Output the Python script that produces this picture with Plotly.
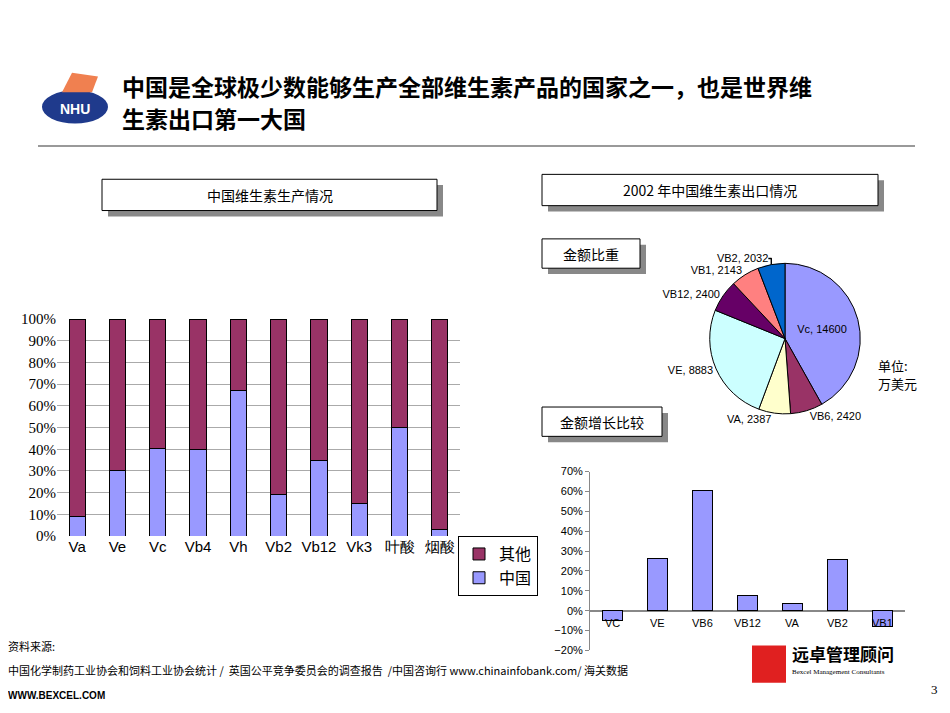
import plotly.graph_objects as go

# left chart: share of world production
vitamins = ["Va", "Ve", "Vc", "Vb4", "Vh", "Vb2", "Vb12", "Vk3", "叶酸", "烟酸"]
china_share = [9, 30, 40.5, 40, 67, 19, 35, 15, 50, 3]
other_share = [100 - v for v in china_share]

# pie: export value 2002 (万美元)
pie_labels = ["Vc", "VB6", "VA", "VE", "VB12", "VB1", "VB2"]
pie_values = [14600, 2420, 2387, 8883, 2400, 2143, 2032]
pie_colors = ["#9999FF", "#993366", "#FFFFCC", "#CCFFFF", "#660066", "#FF8080", "#0066CC"]

# growth chart
growth_labels = ["VC", "VE", "VB6", "VB12", "VA", "VB2", "VB1"]
growth_values = [-5, 26.5, 60.5, 7.5, 3.5, 25.5, -8]

W, H = 950, 713
OFF = 8  # page margin of the html body
def px(x): return (x - OFF) / W
def py(y): return 1 - (y - OFF) / H

fig = go.Figure()
fig.add_trace(go.Bar(x=vitamins, y=china_share, name="中国", marker=dict(color="#9999FF", line=dict(color="#000", width=1)), width=0.4))
fig.add_trace(go.Bar(x=vitamins, y=other_share, name="其他", marker=dict(color="#993366", line=dict(color="#000", width=1)), width=0.4))

fig.add_trace(go.Pie(labels=pie_labels, values=pie_values, sort=False, direction="clockwise", rotation=0,
                     marker=dict(colors=pie_colors, line=dict(color="#000", width=1)),
                     texttemplate="%{label}, %{value:.0f}", textposition=["inside"] + ["outside"] * 6,
                     textfont=dict(size=11, color="#000", family="Arial"), insidetextorientation="horizontal",
                     showlegend=False, domain=dict(x=[px(708), px(862)], y=[py(415), py(261)])))

fig.add_trace(go.Bar(x=growth_labels, y=growth_values, xaxis="x2", yaxis="y2", showlegend=False,
                     marker=dict(color="#9999FF", line=dict(color="#000", width=1)), width=0.45))

ann = []
for lab in growth_labels:
    ann.append(dict(x=lab, y=-2.2, xref="x2", yref="y2", text=lab, showarrow=False, xanchor="center", yanchor="top",
                    font=dict(size=11, family="Arial", color="#000")))

cjk = "Noto Sans CJK SC"

def text(x, y, t, size, family=cjk, xanchor="left", yanchor="middle"):
    ann.append(dict(x=px(x), y=py(y), xref="paper", yref="paper", text=t, showarrow=False,
                    xanchor=xanchor, yanchor=yanchor, font=dict(size=size, family=family, color="#000")))

text(120, 80, "<b>中国是全球极少数能够生产全部维生素产品的国家之一，也是世界维</b>", 23)
text(120, 112, "<b>生素出口第一大国</b>", 23)

shapes = [dict(type="line", xref="paper", yref="paper", x0=px(38), x1=px(915), y0=py(141), y1=py(141),
               line=dict(color="#999", width=2))]

def box(x0, y0, x1, y1, t, size=14):
    shapes.append(dict(type="rect", xref="paper", yref="paper", x0=px(x0 + 6), x1=px(x1 + 6), y0=py(y1 + 6), y1=py(y0 + 6),
                       fillcolor="#888888", line=dict(width=0), layer="below"))
    shapes.append(dict(type="rect", xref="paper", yref="paper", x0=px(x0), x1=px(x1), y0=py(y1), y1=py(y0),
                       fillcolor="#fff", line=dict(color="#000", width=1), layer="below"))
    text((x0 + x1) / 2, (y0 + y1) / 2, t, size, xanchor="center")

box(102, 175, 437, 207, "中国维生素生产情况")
box(542, 170, 878, 202, "2002 年中国维生素出口情况")
box(542, 236, 640, 266, "金额比重")
box(542, 408, 662, 438, "金额增长比较")

# logo
shapes.append(dict(type="circle", xref="paper", yref="paper", x0=px(42), x1=px(108), y0=py(118), y1=py(84),
                   fillcolor="#1F3A8C", line=dict(width=0)))
shapes.append(dict(type="path", xref="paper", yref="paper",
                   path=f"M {px(62)} {py(86)} L {px(72)} {py(66)} L {px(98)} {py(70)} L {px(92)} {py(86)} Z",
                   fillcolor="#F08050", line=dict(width=0)))
text(75, 103, "<b>NHU</b>", 14, family="Arial Black, Arial", xanchor="center")
ann[-1]["font"]["color"] = "#fff"

text(876, 366, "单位:", 13)
text(876, 384, "万美元", 13)
text(6, 652, "资料来源:", 11)
text(6, 677, "中国化学制药工业协会和饲料工业协会统计 /  英国公平竞争委员会的调查报告  /中国咨询行 www.chinainfobank.com/ 海关数据", 11)
text(6, 703, "<b>WWW.BEXCEL.COM</b>", 10, family="Arial")
text(940, 697, "3", 13, family="Liberation Serif", xanchor="right")
text(790, 660, "<b>远卓管理顾问</b>", 17)
text(790, 679, "Bexcel Management Consultants", 7, family="Liberation Serif")
shapes.append(dict(type="rect", xref="paper", yref="paper", x0=px(752), x1=px(786), y0=py(690), y1=py(652),
                   fillcolor="#E02020", line=dict(width=0)))

fig.update_layout(
    width=W, height=H, margin=dict(l=0, r=0, t=0, b=0), paper_bgcolor="#fff", plot_bgcolor="#fff",
    barmode="stack", shapes=shapes, annotations=ann,
    xaxis=dict(domain=[px(57), px(460)], tickfont=dict(size=15, family="Arial", color="#000"), showline=False),
    yaxis=dict(domain=[py(540), py(318)], range=[0, 100], dtick=10, ticksuffix="%", showgrid=True, gridcolor="#aaa",
               tickfont=dict(size=15, family="Liberation Serif", color="#000"), zeroline=False),
    xaxis2=dict(domain=[px(590), px(905)], anchor="y2", showticklabels=False, showline=False),
    yaxis2=dict(domain=[py(657), py(474)], range=[-20, 70], dtick=10, ticksuffix="%", showgrid=False, zeroline=True,
                zerolinecolor="#888", showline=True, linecolor="#888", ticks="outside", ticklen=4, tickcolor="#888",
                tickfont=dict(size=11, family="Arial", color="#000"), anchor="x2"),
    legend=dict(x=px(458), y=py(540), xanchor="left", yanchor="top", bordercolor="#000", borderwidth=1,
                font=dict(size=16, family=cjk, color="#000"), traceorder="reversed"),
)
fig.write_html("out.html")
